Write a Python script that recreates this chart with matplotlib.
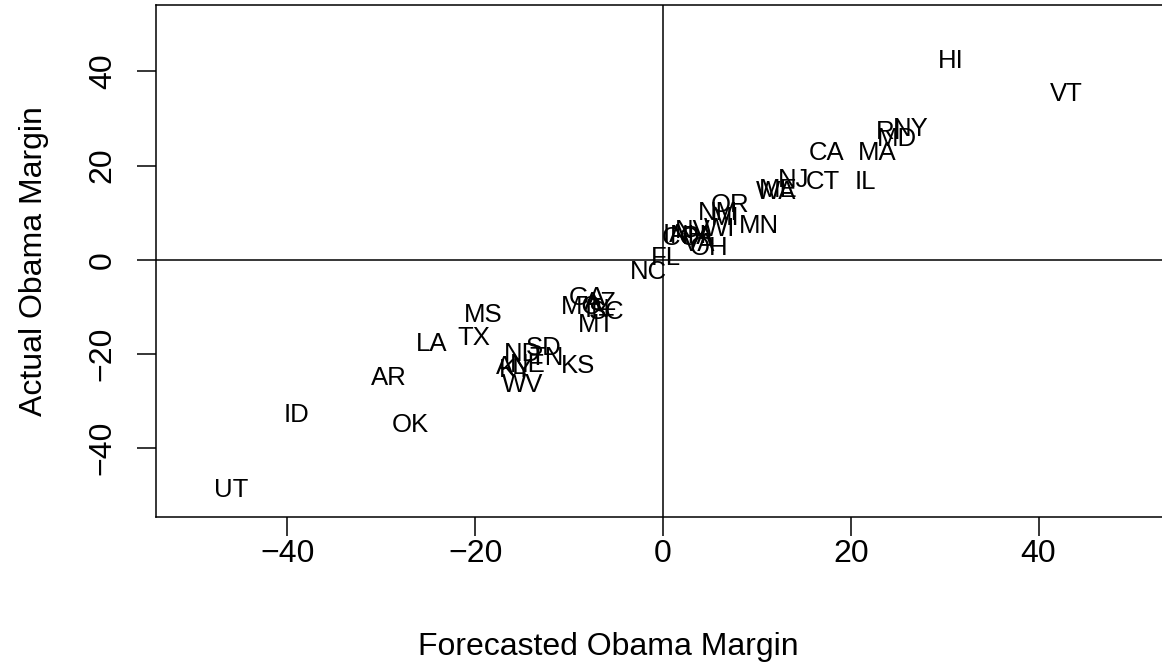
import matplotlib
matplotlib.use("Agg")
import matplotlib.pyplot as plt
from matplotlib.transforms import offset_copy

# state labels with forecasted (x) and actual (y) Obama margin
states = ['HI', 'VT', 'RI', 'NY', 'MD', 'CA', 'MA', 'IL', 'CT', 'NJ',
          'WA', 'ME', 'OR', 'NM', 'MI', 'MN', 'WI', 'NV', 'NH', 'IA',
          'CO', 'PA', 'VA', 'OH', 'FL', 'NC', 'GA', 'AZ', 'MO', 'IN',
          'SC', 'MT', 'MS', 'TX', 'LA', 'ND', 'SD', 'TN', 'KS', 'AL',
          'KY', 'NE', 'WV', 'AR', 'OK', 'ID', 'UT']
forecast = [30.6, 43.0, 24.0, 26.4, 24.9, 17.4, 22.8, 21.6, 17.0, 13.9,
            12.0, 12.3, 7.1, 5.8, 6.6, 10.2, 6.0, 3.2, 2.7, 1.3,
            1.9, 3.7, 3.8, 4.9, 0.3, -1.5, -8.1, -6.7, -8.7, -7.0,
            -6.0, -7.1, -19.2, -20.1, -24.6, -15.0, -12.7, -12.4, -9.1, -16.1,
            -15.7, -14.4, -15.0, -29.2, -26.9, -39.0, -46.0]
actual = [42.7, 35.6, 27.5, 28.2, 26.1, 23.1, 23.1, 16.9, 17.0, 17.4,
          14.9, 15.3, 12.1, 10.4, 9.3, 7.7, 6.9, 6.5, 5.6, 5.8,
          5.0, 5.4, 3.9, 3.0, 0.9, -2.2, -7.6, -8.7, -9.6, -10.2,
          -10.6, -13.4, -11.3, -16.2, -17.4, -19.6, -18.3, -20.4, -22.1, -22.4,
          -22.9, -21.8, -26.1, -24.6, -34.6, -32.5, -48.4]

ticks = [-40, -20, 0, 20, 40]

plt.rcParams['font.family'] = ['Liberation Sans', 'DejaVu Sans']

fig = plt.figure(figsize=(11.62, 6.71), dpi=100)
ax = fig.add_axes([156/1162, 154/671, 1014/1162, 512/671])
ax.set_xlim(-54, 54)
ax.set_ylim(-54.6, 54.1)

# labels centred on the cap height like R's text()
trans = offset_copy(ax.transData, fig=fig, x=0, y=-6.6, units='points')
for s, x, y in zip(states, forecast, actual):
    ax.text(x, y, s, transform=trans, ha='center', va='baseline', fontsize=18.5)

ax.axhline(0, color='black', lw=1.1)
ax.axvline(0, color='black', lw=1.1)

ax.set_xticks(ticks)
ax.set_yticks(ticks)
ax.set_xticklabels([str(t).replace('-', '\u2212') for t in ticks])
ax.set_yticklabels([str(t).replace('-', '\u2212') for t in ticks], rotation=90, va='center')
ax.tick_params(direction='out', length=13.5, width=1.1, labelsize=23)
ax.tick_params(axis='x', pad=2)
ax.tick_params(axis='y', pad=14)
for sp in ax.spines.values():
    sp.set_linewidth(1.1)

ax.set_xlabel('Forecasted Obama Margin', fontsize=23)
ax.xaxis.set_label_coords((608 - 156) / 1014, -115 / 512, transform=ax.transAxes)
ax.set_ylabel('Actual Obama Margin', fontsize=23, labelpad=28)

fig.savefig('out.png', dpi=100)
